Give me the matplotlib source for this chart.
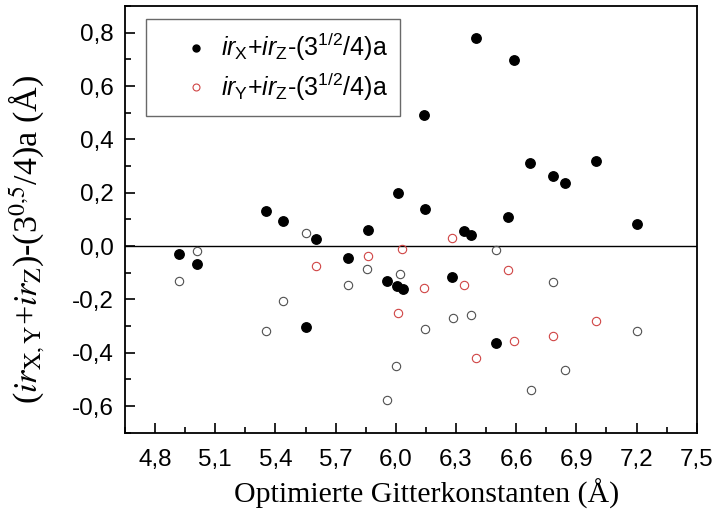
import matplotlib
matplotlib.use('Agg')
import matplotlib.pyplot as plt
from matplotlib.ticker import MultipleLocator, FuncFormatter

plt.rcParams['font.family'] = ['Liberation Sans', 'DejaVu Sans']
plt.rcParams['mathtext.fontset'] = 'custom'
plt.rcParams['mathtext.rm'] = 'Liberation Sans'
plt.rcParams['mathtext.it'] = 'Liberation Sans:italic'

# black filled points: ir_X + ir_Z - (3^1/2/4)a
x_black = [4.92, 5.01, 5.355, 5.44, 5.55, 5.60, 5.76, 5.86, 5.955, 6.005, 6.035,
           6.01, 6.14, 6.145, 6.28, 6.34, 6.375, 6.40, 6.50, 6.56, 6.59, 6.67,
           6.785, 6.845, 7.00, 7.20]
y_black = [-0.031, -0.068, 0.131, 0.094, -0.304, 0.025, -0.046, 0.061, -0.130, -0.150, -0.162,
           0.198, 0.492, 0.139, -0.118, 0.057, 0.040, 0.781, -0.364, 0.110, 0.698, 0.311,
           0.263, 0.236, 0.319, 0.084]

# red open points: ir_Y + ir_Z - (3^1/2/4)a
x_red = [5.60, 5.86, 6.01, 6.03, 6.14, 6.28, 6.34, 6.40, 6.56, 6.59, 6.785, 7.00]
y_red = [-0.074, -0.037, -0.251, -0.011, -0.159, 0.031, -0.145, -0.420, -0.090, -0.355, -0.337, -0.282]

# grey open points (no legend entry)
x_grey = [4.92, 5.01, 5.355, 5.44, 5.55, 5.76, 5.855, 5.958, 6.003, 6.02, 6.147,
          6.285, 6.373, 6.50, 6.672, 6.784, 6.843, 7.20]
y_grey = [-0.131, -0.018, -0.319, -0.206, 0.048, -0.145, -0.085, -0.579, -0.449, -0.106, -0.312,
          -0.271, -0.260, -0.014, -0.539, -0.136, -0.465, -0.317]

legend_labels = [r'$\mathit{ir}_{\mathrm{X}}$+$\mathit{ir}_{\mathrm{Z}}$-(3$^{\mathrm{1/2}}$/4)a',
                 r'$\mathit{ir}_{\mathrm{Y}}$+$\mathit{ir}_{\mathrm{Z}}$-(3$^{\mathrm{1/2}}$/4)a']

fig = plt.figure(figsize=(7.17, 5.23), dpi=100)
ax = fig.add_axes([0.1743, 0.1727, 0.7974, 0.8158])

ax.axhline(0, color='black', lw=1.0, zorder=1)
ax.plot(x_grey, y_grey, 'o', ms=6, mfc='none', mec='#505050', mew=0.8, zorder=2)
red, = ax.plot(x_red, y_red, 'o', ms=6, mfc='none', mec='#d04545', mew=0.8, zorder=2)
black, = ax.plot(x_black, y_black, 'o', ms=6.8, color='black', zorder=3)

ax.set_xlim(4.65, 7.5)
ax.set_ylim(-0.7, 0.9)
ax.set_xticks([4.8, 5.1, 5.4, 5.7, 6.0, 6.3, 6.6, 6.9, 7.2, 7.5])
ax.set_yticks([-0.6, -0.4, -0.2, 0.0, 0.2, 0.4, 0.6, 0.8])
ax.xaxis.set_minor_locator(MultipleLocator(0.15))
ax.yaxis.set_minor_locator(MultipleLocator(0.1))
comma = FuncFormatter(lambda v, p: f'{v:.1f}'.replace('.', ','))
ax.xaxis.set_major_formatter(comma)
ax.yaxis.set_major_formatter(comma)

ax.tick_params(which='both', direction='in', top=False, right=False, width=1.2,
               labelsize=17.5)
ax.tick_params(axis='x', pad=12)
ax.tick_params(axis='y', pad=8)
ax.tick_params(which='major', length=7)
ax.tick_params(which='minor', length=4)
for s in ax.spines.values():
    s.set_linewidth(1.3)

ax.set_xlabel('Optimierte Gitterkonstanten (Å)', family='Liberation Serif', fontsize=21.5)
ax.xaxis.set_label_coords(0.527, -0.108)
ax.set_ylabel(r'($\mathit{ir}_{\mathrm{X,Y}}$+$\mathit{ir}_{\mathrm{Z}}$)-(3$^{0{,}5}$/4)a (Å)',
              family='Liberation Serif', fontsize=24.5, math_fontfamily='stix')
ax.yaxis.set_label_coords(-0.136, 0.452)

leg = ax.legend([black, red], legend_labels, loc='upper left', bbox_to_anchor=(0.036, 0.97),
                fontsize=18, frameon=True, fancybox=False, edgecolor='#444444',
                handlelength=3.0, handletextpad=-0.5, borderpad=0.5, labelspacing=0.3,
                borderaxespad=0)
leg.get_frame().set_linewidth(1.0)
for lh in leg.legend_handles:
    lh.set_markersize(5)

fig.savefig('out.png', dpi=100)
